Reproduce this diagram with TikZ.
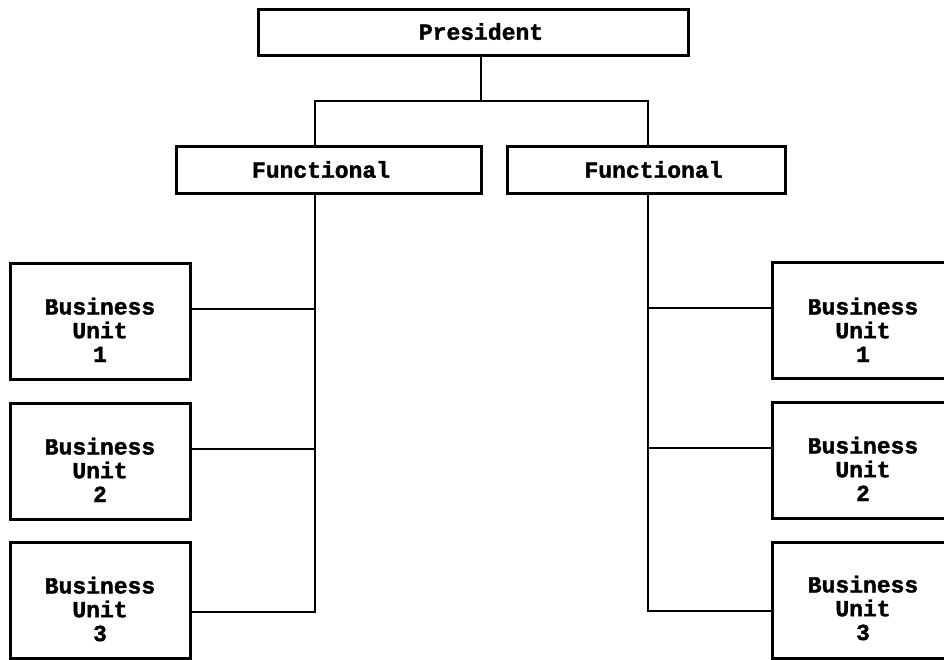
\documentclass[tikz,border=0pt]{standalone}
\usepackage{fontspec}
\newfontfamily\heavymono[FakeBold=1.6]{Liberation Mono Bold}
\begin{document}
\begin{tikzpicture}[x=1pt,y=-1pt,
  line width=2.8pt,
  box/.style={draw=black, fill=white, inner sep=0pt, line width=3pt},
  lbl/.style={font=\heavymono\fontsize{23}{23.8}\selectfont, align=center, inner sep=0pt}]
\useasboundingbox (0,0) rectangle (944,659);
\begin{scope}
\clip (0,0) rectangle (944,659);

% boxes
\node[box, minimum width=430, minimum height=46] (pres) at (473,32) {};
\node[box, minimum width=305, minimum height=47] (fl) at (328.5,169.5) {};
\node[box, minimum width=278, minimum height=47] (fr) at (646,169.5) {};

\node[box, minimum width=180, minimum height=116] (bl1) at (100,321) {};
\node[box, minimum width=180, minimum height=116] (bl2) at (100,461) {};
\node[box, minimum width=180, minimum height=116] (bl3) at (100,600) {};
\node[box, minimum width=180, minimum height=116] (br1) at (862,320) {};
\node[box, minimum width=180, minimum height=116] (br2) at (862,460) {};
\node[box, minimum width=180, minimum height=116] (br3) at (862,600) {};

% labels (base anchor sits on the last line)
\node[lbl] (presT) at (481,31.5) {President};
\node[lbl] (flT) at (321,169.5) {Functional};
\node[lbl] (frT) at (653.5,169.5) {Functional};
\node[lbl, anchor=base] (bl1T) at (100,362) {Business\\Unit\\1};
\node[lbl, anchor=base] (bl2T) at (100,502) {Business\\Unit\\2};
\node[lbl, anchor=base] (bl3T) at (100,641) {Business\\Unit\\3};
\node[lbl, anchor=base] (br1T) at (863,362) {Business\\Unit\\1};
\node[lbl, anchor=base] (br2T) at (863,501) {Business\\Unit\\2};
\node[lbl, anchor=base] (br3T) at (863,640) {Business\\Unit\\3};

% junction points
\coordinate (top) at (481,101);
\coordinate (jl) at (315,101);
\coordinate (jr) at (648,101);
\coordinate (l1) at (315,309);
\coordinate (l2) at (315,449);
\coordinate (l3) at (315,612);
\coordinate (r1) at (648,308);
\coordinate (r2) at (648,448);
\coordinate (r3) at (648,611);

% president to functional heads
\draw (pres.south -| top) -- (top);
\draw (jl |- fl.north) -- (jl) -- (jr) -- (jr |- fr.north);

% left functional to its business units
\draw (fl.south -| l1) -- (l3) -- (bl3.east |- l3);
\draw (l1) -- (bl1.east |- l1);
\draw (l2) -- (bl2.east |- l2);

% right functional to its business units
\draw (fr.south -| r1) -- (r3) -- (br3.west |- r3);
\draw (r1) -- (br1.west |- r1);
\draw (r2) -- (br2.west |- r2);
\end{scope}
\end{tikzpicture}
\end{document}
